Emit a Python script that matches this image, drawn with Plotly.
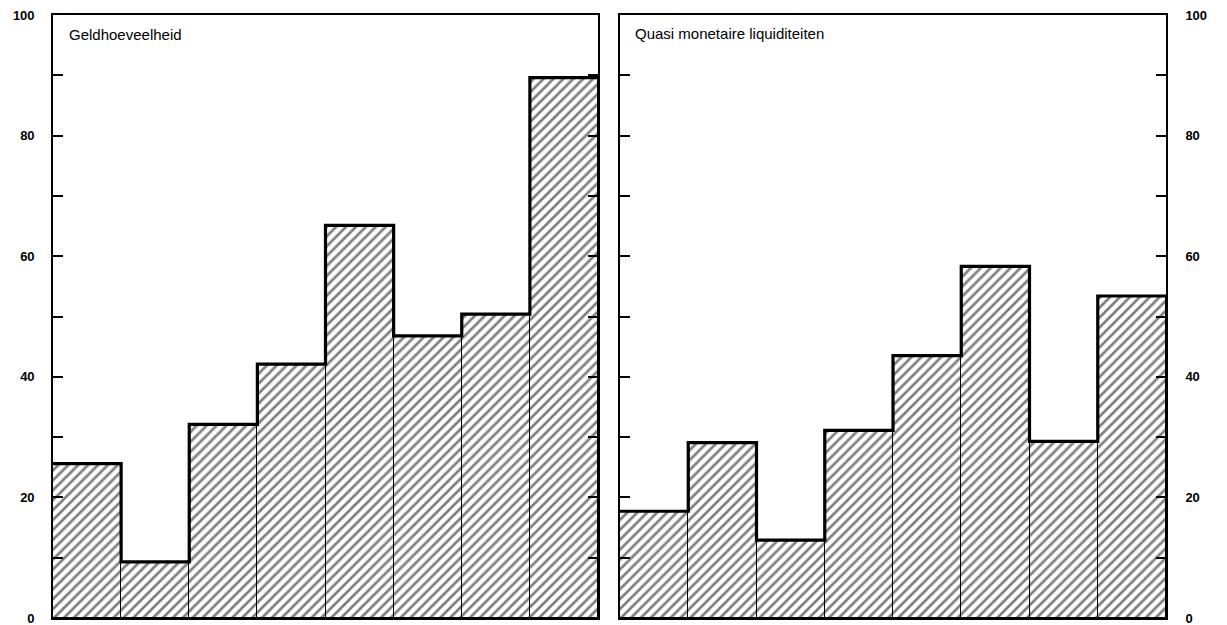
import plotly.graph_objects as go

# --- data -----------------------------------------------------------------
categories = [1, 2, 3, 4, 5, 6, 7, 8]          # successive periods
geldhoeveelheid = [25.6, 9.3, 32.1, 42.1, 65.1, 46.8, 50.4, 89.6]
quasi_monetair = [17.7, 29.1, 12.9, 31.1, 43.5, 58.3, 29.3, 53.4]
panel_titles = ["Geldhoeveelheid", "Quasi monetaire liquiditeiten"]
tick_vals = [0, 10, 20, 30, 40, 50, 60, 70, 80, 90, 100]
tick_text = ["0", "", "20", "", "40", "", "60", "", "80", "", "100"]

FONT = "Liberation Sans, Arial, sans-serif"

fig = go.Figure()

def add_panel(values, xa, ya):
    xs = [c - 0.5 for c in categories]
    fig.add_trace(go.Bar(
        x=xs, y=values, width=1, xaxis=xa, yaxis=ya,
        marker=dict(color="white",
                    line=dict(color="black", width=1),
                    pattern=dict(shape="/", fgcolor="black", bgcolor="white",
                                 size=7, solidity=0.38)),
        showlegend=False, hoverinfo="skip"))
    step_x = [c - 1 for c in categories] + [categories[-1]]
    step_y = list(values) + [values[-1]]
    fig.add_trace(go.Scatter(
        x=step_x, y=step_y, xaxis=xa, yaxis=ya, mode="lines",
        line=dict(color="black", width=3.2, shape="hv"),
        showlegend=False, hoverinfo="skip"))

add_panel(geldhoeveelheid, "x", "y")
add_panel(quasi_monetair, "x2", "y2")

# invisible traces to hold the mirrored right-side axes
fig.add_trace(go.Scatter(x=[0], y=[0], xaxis="x", yaxis="y3", mode="markers",
                         marker=dict(opacity=0), showlegend=False, hoverinfo="skip"))
fig.add_trace(go.Scatter(x=[0], y=[0], xaxis="x2", yaxis="y4", mode="markers",
                         marker=dict(opacity=0), showlegend=False, hoverinfo="skip"))

left_end = (598 - 53) / 1113
right_start = (620 - 53) / 1113

xcommon = dict(range=[0, len(categories)], showgrid=False, zeroline=False,
               showticklabels=False, ticks="", showline=True, mirror=True,
               linecolor="black", linewidth=1.6, fixedrange=True,
               automargin=False)
ycommon = dict(range=[0, 100], showgrid=False, zeroline=False,
               tickmode="array", tickvals=tick_vals, ticktext=tick_text,
               ticks="inside", ticklen=10, tickwidth=1.5, tickcolor="black",
               showline=True, linecolor="black", linewidth=1.6,
               ticklabeloverflow="allow", automargin=False,
               tickfont=dict(family=FONT, size=13, color="black", weight="bold"),
               fixedrange=True)

# page body has an 8 px margin: figure is sized/offset to compensate
fig.update_layout(
    width=1219, height=617,
    margin=dict(l=45, r=61, t=7, b=7, autoexpand=False),
    paper_bgcolor="white", plot_bgcolor="white",
    barmode="overlay", bargap=0,
    xaxis=dict(domain=[0, left_end], anchor="y", **xcommon),
    xaxis2=dict(domain=[right_start, 1], anchor="y2", **xcommon),
    yaxis=dict(anchor="x", side="left", showticklabels=True,
               ticklabelstandoff=14, **ycommon),
    yaxis3=dict(anchor="x", overlaying="y", side="right",
                showticklabels=False, **ycommon),
    yaxis2=dict(anchor="x2", side="left", showticklabels=False, **ycommon),
    yaxis4=dict(anchor="x2", overlaying="y2", side="right",
                showticklabels=True, ticklabelstandoff=15, **ycommon),
    annotations=[
        dict(text=panel_titles[0], xref="x domain", yref="y domain",
             x=0.026, y=0.967, xanchor="left", yanchor="middle",
             showarrow=False, font=dict(family=FONT, size=15, color="black")),
        dict(text=panel_titles[1], xref="x2 domain", yref="y2 domain",
             x=0.024, y=0.97, xanchor="left", yanchor="middle",
             showarrow=False, font=dict(family=FONT, size=15, color="black")),
    ],
)

fig.write_html("out.html")
